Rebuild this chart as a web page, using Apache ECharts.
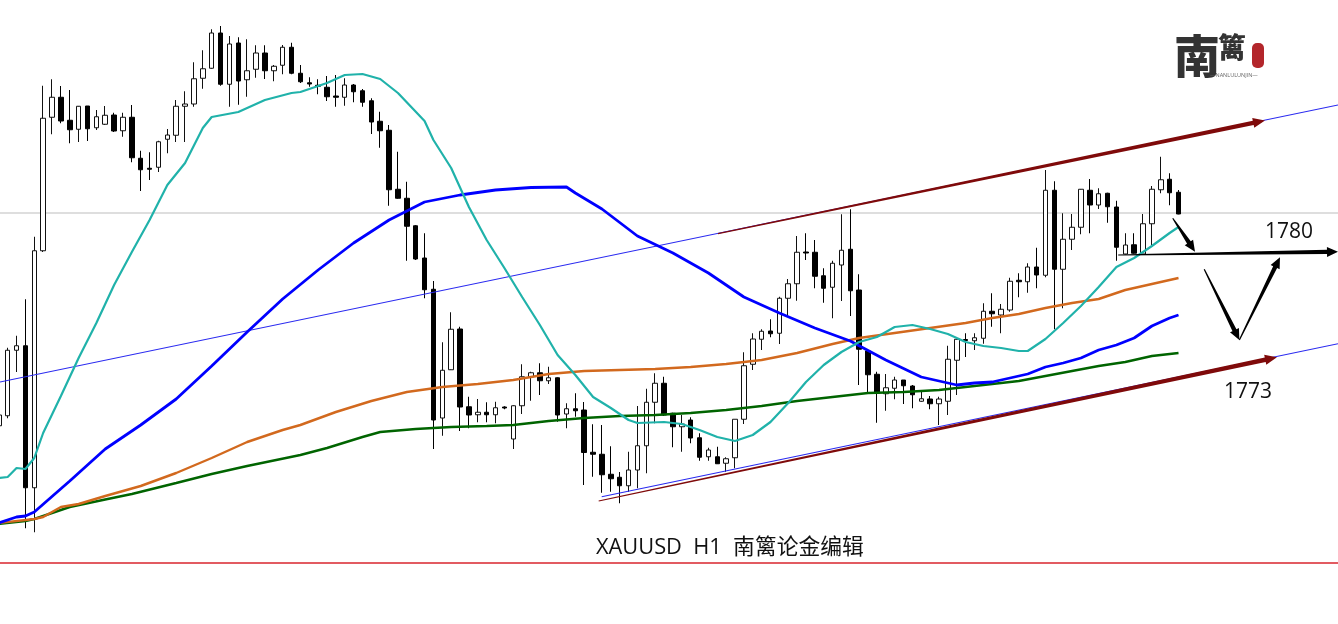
<!DOCTYPE html>
<html><head><meta charset="utf-8">
<style>html,body{margin:0;padding:0;background:#fff}#c{width:1338px;height:624px}</style>
<script src="https://cdn.jsdelivr.net/npm/echarts@6/dist/echarts.min.js"></script>
</head><body><div id="c"></div>
<script>
const opens=[1766.18,1766.98,1772.22,1772.58,1761.22,1780.18,1790.86,1792.46,1790.62,1789.90,
1791.76,1790.02,1790.30,1791.04,1789.78,1790.86,1787.58,1786.78,1786.86,1789.10,
1789.42,1791.74,1791.92,1793.98,1794.78,1797.60,1793.50,1796.80,1793.86,1794.70,
1796.00,1794.58,1795.02,1796.46,1794.38,1793.62,1793.42,1793.26,1792.56,1792.46,
1793.44,1792.98,1792.18,1790.54,1789.82,1785.10,1784.38,1782.18,1779.60,1777.10,
1766.80,1770.66,1773.92,1767.70,1767.06,1767.26,1767.06,1767.68,1765.12,1767.78,
1770.10,1770.42,1769.78,1770.02,1767.12,1767.54,1767.44,1764.06,1763.90,1762.30,
1762.06,1761.38,1762.64,1764.58,1768.06,1769.58,1767.18,1766.10,1766.64,1765.22,
1763.70,1763.70,1763.18,1763.62,1766.70,1771.10,1773.10,1773.76,1773.58,1776.38,
1777.54,1780.08,1780.06,1778.18,1777.26,1779.04,1780.30,1777.04,1772.16,1770.30,
1768.74,1769.18,1769.84,1769.36,1768.14,1768.32,1767.94,1768.14,1771.42,1773.08,
1772.98,1773.18,1775.34,1775.04,1775.44,1777.82,1777.70,1778.88,1778.22,1785.02,
1778.70,1781.10,1782.06,1785.02,1783.84,1784.78,1783.68,1779.92,1780.66,1779.92,
1782.34,1785.06,1785.90,1784.86];
const closes=[1767.04,1772.22,1772.58,1761.22,1780.18,1790.78,1792.46,1790.56,1789.86,1791.74,
1789.94,1790.90,1791.02,1789.76,1790.86,1787.62,1786.66,1786.70,1788.90,1789.44,
1791.74,1791.92,1793.94,1794.74,1797.60,1793.50,1796.72,1793.76,1794.58,1796.00,
1794.58,1794.94,1796.46,1794.38,1793.70,1793.52,1793.34,1792.50,1792.46,1793.44,
1792.90,1792.06,1790.48,1789.78,1785.06,1784.38,1782.14,1779.52,1777.06,1766.64,
1770.62,1773.90,1767.68,1767.04,1767.26,1767.06,1767.62,1767.60,1767.78,1770.10,
1770.42,1769.78,1770.02,1767.04,1767.54,1767.38,1764.04,1763.90,1762.26,1761.94,
1761.38,1762.64,1764.58,1768.06,1769.58,1767.04,1766.10,1766.32,1765.20,1763.66,
1764.24,1763.14,1763.54,1766.70,1770.98,1773.12,1773.74,1773.54,1776.38,1777.54,
1780.06,1780.00,1778.14,1777.18,1779.18,1780.22,1776.98,1772.30,1770.26,1768.78,
1769.22,1769.84,1769.38,1768.66,1768.34,1767.94,1768.32,1771.50,1773.10,1773.00,
1773.22,1775.34,1775.14,1775.50,1777.74,1777.70,1778.88,1778.24,1785.02,1778.70,
1781.10,1782.06,1785.10,1783.84,1784.74,1783.70,1780.46,1780.64,1779.98,1782.34,
1785.10,1785.86,1784.82,1783.12];
const lows=[1765.84,1766.78,1770.48,1757.98,1757.66,1780.08,1789.50,1790.38,1788.78,1788.88,
1788.96,1789.84,1790.24,1789.68,1789.30,1787.26,1784.96,1785.84,1786.48,1787.98,
1788.88,1788.88,1791.70,1793.14,1794.74,1793.38,1791.70,1791.86,1792.50,1794.02,
1793.92,1793.74,1794.30,1794.30,1793.60,1793.30,1792.70,1792.16,1791.70,1791.78,
1792.06,1791.70,1789.52,1788.42,1783.78,1784.34,1779.38,1779.44,1776.38,1764.32,
1765.38,1770.64,1765.76,1765.98,1766.46,1766.46,1766.38,1767.50,1764.32,1767.12,
1768.18,1768.64,1769.52,1766.50,1765.98,1766.90,1761.44,1762.10,1760.82,1760.90,
1759.98,1760.90,1761.18,1762.38,1766.38,1766.96,1764.46,1764.10,1764.78,1763.38,
1763.38,1763.12,1762.50,1762.78,1766.32,1770.64,1772.24,1773.26,1772.72,1774.90,
1776.18,1779.44,1777.18,1776.02,1774.78,1776.16,1774.96,1769.44,1768.78,1766.42,
1767.38,1768.30,1767.92,1767.58,1768.10,1767.50,1766.24,1767.04,1768.64,1771.68,
1772.24,1772.74,1774.10,1773.58,1775.30,1776.46,1776.82,1777.18,1778.06,1773.90,
1775.58,1780.24,1781.50,1781.58,1783.52,1782.42,1779.38,1779.90,1779.94,1779.90,
1780.64,1784.78,1783.82,1783.10];
const highs=[1767.60,1772.42,1773.38,1776.30,1781.30,1793.38,1793.90,1793.36,1793.04,1791.76,
1791.76,1791.44,1791.76,1791.22,1791.22,1791.84,1788.18,1788.06,1788.98,1789.92,
1792.24,1792.94,1795.26,1796.22,1797.90,1798.16,1797.36,1797.26,1797.10,1796.62,
1796.62,1795.04,1796.64,1796.82,1795.04,1794.06,1793.90,1794.16,1794.24,1793.98,
1793.52,1793.12,1792.38,1791.30,1790.24,1788.10,1785.70,1782.24,1781.58,1777.76,
1772.86,1775.26,1774.10,1768.50,1768.32,1768.06,1768.10,1767.74,1767.82,1771.10,
1770.50,1771.18,1770.90,1770.06,1767.98,1768.78,1768.08,1766.30,1766.24,1764.54,
1762.48,1764.10,1767.76,1769.14,1770.38,1770.10,1767.22,1767.04,1766.86,1765.58,
1764.42,1764.50,1763.66,1766.70,1772.06,1773.58,1773.90,1774.70,1776.50,1777.92,
1781.36,1781.58,1781.04,1778.78,1779.38,1783.10,1783.50,1778.30,1772.24,1770.50,
1770.32,1770.10,1769.84,1769.44,1768.90,1768.56,1768.50,1772.58,1773.12,1773.58,
1773.58,1775.98,1776.78,1775.92,1778.02,1778.38,1779.18,1780.42,1786.64,1785.74,
1783.18,1783.12,1785.12,1785.92,1785.18,1784.82,1784.18,1781.58,1781.58,1783.12,
1785.36,1787.70,1786.38,1785.04];

const tealBars=[0,1,2,3,4,5,7,9,11,13,15,17,19,21,23,24,27,30,33,34,37,39,41,43,45,48,49,51,53,55,57,59,61,63,65,67,69,71,72,75,77,79,81,83,85,87,89,91,93,95,97,99,101,103,105,107,109,111,113,115,116,118,120,122,124,126,128,130,132,133];
const tealVals=[1762.00,1762.08,1762.80,1762.72,1763.60,1765.60,1768.56,1771.60,1774.40,1777.44,1780.08,1782.64,1785.44,1787.20,1790.00,1790.88,1791.28,1792.24,1792.80,1792.88,1793.60,1794.24,1794.32,1793.92,1792.80,1790.56,1789.04,1786.80,1783.68,1781.04,1778.80,1776.48,1774.24,1771.84,1770.24,1768.48,1767.60,1766.64,1766.40,1766.48,1766.32,1765.84,1765.28,1764.96,1765.44,1766.48,1768.00,1769.68,1771.04,1772.08,1772.88,1773.28,1774.08,1774.24,1773.92,1773.52,1772.88,1772.56,1772.40,1772.16,1772.16,1773.12,1774.40,1775.76,1777.28,1778.88,1779.60,1780.56,1781.60,1782.08];
const blueBars=[0,2,3,4,8,12,16,20,24,28,32,36,40,44,48,52,56,60,64,65,68,72,76,80,84,88,92,96,100,104,108,110,112,116,118,120,122,124,126,128,130,132,133];
const blueVals=[1758.40,1758.88,1758.96,1759.28,1761.76,1764.32,1766.24,1768.32,1770.96,1773.68,1776.32,1778.64,1780.80,1782.64,1784.08,1784.64,1785.04,1785.24,1785.28,1784.80,1783.52,1781.36,1780.00,1778.40,1776.48,1775.20,1774.00,1772.96,1771.44,1770.08,1769.44,1769.60,1769.68,1770.32,1770.88,1771.20,1771.60,1772.24,1772.64,1773.20,1774.16,1774.80,1775.04];
const orangeBars=[0,4,5,7,9,12,16,20,24,28,32,34,38,42,46,50,54,58,62,66,70,74,78,82,86,90,94,97,101,105,109,112,115,118,121,124,127,130,133];
const orangeVals=[1758.40,1758.72,1758.88,1759.68,1759.92,1760.56,1761.36,1762.40,1763.60,1764.88,1765.84,1766.24,1767.28,1768.16,1768.88,1769.28,1769.52,1769.84,1770.32,1770.56,1770.64,1770.72,1770.88,1771.12,1771.44,1772.00,1772.72,1773.20,1773.60,1774.00,1774.40,1774.80,1775.12,1775.60,1776.00,1776.32,1777.04,1777.52,1778.00];
const greenBars=[0,3,4,8,12,15,20,24,28,34,37,41,43,47,51,55,58,62,66,70,74,78,82,86,90,94,98,102,106,110,112,115,118,121,124,127,130,133];
const greenVals=[1758.32,1758.56,1758.72,1759.68,1760.28,1760.72,1761.60,1762.32,1762.96,1763.84,1764.40,1765.28,1765.68,1765.92,1766.08,1766.16,1766.24,1766.56,1766.80,1766.96,1767.04,1767.20,1767.44,1767.76,1768.16,1768.48,1768.80,1768.88,1769.04,1769.36,1769.52,1769.76,1770.16,1770.56,1770.96,1771.28,1771.76,1772.00];

// [startBar, startPrice, endBar, endPrice]
const channelLines=[[0.135,1769.68,150.98,1791.84],[67.97,1760.50,150.98,1772.74]];
const redArrows=[[81.08,1781.55,142.75,1790.60],[67.63,1760.16,144.1,1771.66]];
const blackArrows=[[132.35,1782.78,134.86,1780.10],[126.2,1779.84,150.98,1780.10],[135.9,1778.70,139.86,1773.04],[139.86,1773.04,144.44,1779.66]];
const priceLevel=1783.20, frameLevel=1755.20;
const AXIS_MIN=1750.32, AXIS_MAX=1800.24, BAR_SLOTS=152;
const categories=Array.from({length:BAR_SLOTS},(_,i)=>'H1-'+i);
const candles=opens.map((o,i)=>[o,closes[i],lows[i],highs[i]]);

function zipLine(b,v){return b.map((x,i)=>[x,v[i]]);}
function segment(r){return [[r[0],r[1]],[r[2],r[3]]];}
function arrowRender(color,w0,w1,hw,hl){
  return function(params,api){
    const a=api.coord([api.value(0),api.value(1)]);
    const b=api.coord([api.value(2),api.value(3)]);
    const dx=b[0]-a[0],dy=b[1]-a[1],len=Math.hypot(dx,dy),ux=dx/len,uy=dy/len,nx=-uy,ny=ux;
    const base=[b[0]-ux*hl,b[1]-uy*hl];
    const pts=[
      [a[0]+nx*w0/2,a[1]+ny*w0/2],
      [base[0]+nx*w1/2,base[1]+ny*w1/2],
      [base[0]+nx*hw/2,base[1]+ny*hw/2],
      b,
      [base[0]-nx*hw/2,base[1]-ny*hw/2],
      [base[0]-nx*w1/2,base[1]-ny*w1/2],
      [a[0]-nx*w0/2,a[1]-ny*w0/2]];
    return {type:'polygon',shape:{points:pts},style:{fill:color,stroke:null}};
  };
}
function lineSeries(data,color,width,z){
  return {type:'line',xAxisIndex:1,yAxisIndex:0,data,symbol:'none',silent:true,z,
    lineStyle:{color,width},clip:false,animation:false};
}
const chart=echarts.init(document.getElementById('c'),null,{renderer:'canvas'});
chart.setOption({
  animation:false,backgroundColor:'#ffffff',
  grid:{left:-5.635,top:0,width:1348.24,height:624,containLabel:false,outerBoundsMode:'none'},
  xAxis:[{type:'category',data:categories,show:false,boundaryGap:true},
         {type:'value',min:-0.5,max:BAR_SLOTS-0.5,show:false}],
  yAxis:{type:'value',min:AXIS_MIN,max:AXIS_MAX,show:false,splitLine:{show:false}},
  series:[
    lineSeries(segment([-0.5,priceLevel,BAR_SLOTS-0.5,priceLevel]),'#bdbdbd',1.2,1),
    lineSeries(segment([-0.5,frameLevel,BAR_SLOTS-0.5,frameLevel]),'#d9252d',1.3,1),
    {type:'candlestick',data:candles,barWidth:5,z:2,silent:true,
     itemStyle:{color:'#ffffff',color0:'#000000',borderColor:'#111111',borderColor0:'#000000',borderWidth:1}},
    lineSeries(segment(channelLines[0]),'#2a2af0',1.2,3),
    lineSeries(segment(channelLines[1]),'#2a2af0',1.2,3),
    lineSeries(zipLine(greenBars,greenVals),'#006400',2.4,4),
    lineSeries(zipLine(orangeBars,orangeVals),'#d2691e',2.4,4),
    lineSeries(zipLine(blueBars,blueVals),'#0000ff',2.8,4),
    lineSeries(zipLine(tealBars,tealVals),'#20b2aa',2.2,4),
    {type:'custom',xAxisIndex:1,yAxisIndex:0,data:redArrows,z:5,silent:true,clip:false,
     encode:{x:[0,2],y:[1,3]},renderItem:arrowRender('#7f0a0a',1.2,4.4,10,12)},
    {type:'custom',xAxisIndex:1,yAxisIndex:0,data:blackArrows,z:6,silent:true,clip:false,
     encode:{x:[0,2],y:[1,3]},renderItem:arrowRender('#000000',1.2,4.4,10,11)}
  ],
  graphic:[
    {type:'text',left:596,top:537,style:{text:'XAUUSD  H1  南篱论金编辑',fill:'#111',font:'21.8px "Open Sans","Noto Sans CJK SC",sans-serif'}},
    {type:'text',left:1265,top:222,style:{text:'1780',fill:'#111',font:'21px "Open Sans",sans-serif'}},
    {type:'text',left:1224,top:382,style:{text:'1773',fill:'#111',font:'21px "Open Sans",sans-serif'}},
    {type:'text',left:1174,top:33,style:{text:'南',fill:'#333',font:'900 46px "Noto Sans CJK SC",sans-serif'}},
    {type:'text',left:1218,top:33,style:{text:'篱',fill:'#333',font:'900 28px "Noto Sans CJK SC",sans-serif'}},
    {type:'text',left:1210,top:72,style:{text:'—NANLULUNJIN—',fill:'#666',font:'5.5px "Open Sans",sans-serif'}},
    {type:'rect',left:1252,top:43,shape:{width:12,height:25,r:5},style:{fill:'#b3262b'}}
  ]
});
</script></body></html>
